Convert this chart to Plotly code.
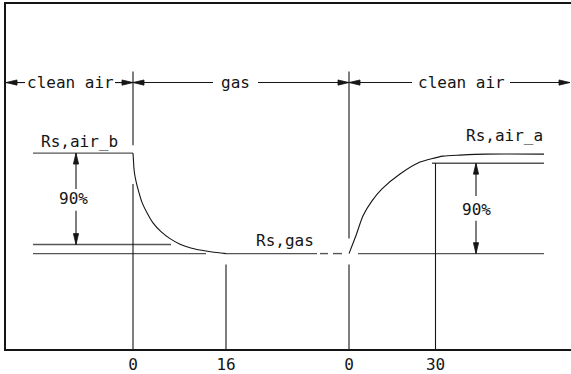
import plotly.graph_objects as go

# schematic units: x = position along the (not to scale) time axis,
# y = sensor resistance as % of the step between Rs,gas (0) and Rs,air (100)
T_GAS_ON = 127
T_GAS_90 = 220
T_GAS_OFF = 343
T_AIR_90 = 429.5
X_START, X_END = 27, 538
X_FRAME = 565
Y_MIN, Y_MAX = -95, 248.5

RS_AIR_B = 100
RS_AIR_A = 99
RS_GAS = 0
LEVEL_RESP = 9      # 90 % of the drop reached
LEVEL_REC = 90      # 90 % of the recovery reached

TICK_POS = [T_GAS_ON, T_GAS_90, T_GAS_OFF, T_AIR_90]
TICK_TEXT = ['0', '16', '0', '30']

DECAY_X = [127, 127.5, 128, 129, 130.5, 132.5, 136, 141, 147, 155, 164, 174, 184, 194, 206, 220]
DECAY_Y = [100, 92, 84.2, 77, 70, 62.4, 51, 40.6, 30.5, 21.8, 14.9, 9.4, 5.8, 3.5, 1.5, 0]

RISE_X = [343, 350, 357, 366, 376, 394, 414, 437, 454, 479, 538]
RISE_Y = [0, 18, 37.6, 52.5, 64.4, 79.2, 91.1, 97, 98, 99, 99]

PHASES = ['clean air', 'gas', 'clean air']
PHASE_EDGES = [0, 127, 343, 564]
PHASE_TEXT_GAP = [(19, 109), (207, 252), (406, 504)]
DIM_Y = 170.3
EXT_TOP = 181.2

FONT = 'DejaVu Sans Mono'
INK = '#151515'
GREY = '#555555'

PLOT_W, PLOT_H = 565, 347
PX_X = PLOT_W / X_FRAME
PX_Y = PLOT_H / (Y_MAX - Y_MIN)


def segs(pairs):
    xs, ys = [], []
    for (x0, y0), (x1, y1) in pairs:
        xs += [x0, x1, None]
        ys += [y0, y1, None]
    return xs, ys


def heads(tips, length=11, half=2.6):
    # tips: (x, y, direction) -> filled narrow triangles
    xs, ys = [], []
    for x, y, d in tips:
        dx, dy = {'l': (1, 0), 'r': (-1, 0), 'u': (0, -1), 'd': (0, 1)}[d]
        bx, by = x + dx * length / PX_X, y + dy * length / PX_Y
        px, py = dy * half / PX_X, dx * half / PX_Y
        xs += [x, bx + px, bx - px, x, None]
        ys += [y, by + py, by - py, y, None]
    return xs, ys


fig = go.Figure()

# level lines
level_x, level_y = segs([
    ((X_START, RS_AIR_B), (T_GAS_ON, RS_AIR_B)),
    ((X_START, LEVEL_RESP), (165, LEVEL_RESP)),
    ((X_START, RS_GAS), (200, RS_GAS)),
    ((T_GAS_90, RS_GAS), (311, RS_GAS)),
    ((314, RS_GAS), (322, RS_GAS)),
    ((327, RS_GAS), (336, RS_GAS)),
    ((352, RS_GAS), (X_END, RS_GAS)),
    ((426, LEVEL_REC), (X_END, LEVEL_REC)),
])
fig.add_scatter(x=level_x, y=level_y, mode='lines', line=dict(color=GREY, width=1.4), hoverinfo='skip')

# time markers
vert_x, vert_y = segs([
    ((T_GAS_ON, EXT_TOP), (T_GAS_ON, 107.9)),
    ((T_GAS_ON, 69.3), (T_GAS_ON, Y_MIN)),
    ((T_GAS_90, -10.9), (T_GAS_90, Y_MIN)),
    ((T_GAS_OFF, EXT_TOP), (T_GAS_OFF, 14.9)),
    ((T_GAS_OFF, -10.9), (T_GAS_OFF, Y_MIN)),
    ((T_AIR_90, LEVEL_REC), (T_AIR_90, Y_MIN)),
])
fig.add_scatter(x=vert_x, y=vert_y, mode='lines', line=dict(color=INK, width=1.1), hoverinfo='skip')

# sensor response
fig.add_scatter(x=DECAY_X, y=DECAY_Y, mode='lines', line=dict(color=INK, width=1.1, shape='spline', smoothing=0.6),
                hoverinfo='skip')
fig.add_scatter(x=RISE_X, y=RISE_Y, mode='lines', line=dict(color=INK, width=1.1, shape='spline', smoothing=0.6),
                hoverinfo='skip')

# phase dimension line
dim_pairs, tips = [], []
for i, name in enumerate(PHASES):
    x0, x1 = PHASE_EDGES[i], PHASE_EDGES[i + 1]
    g0, g1 = PHASE_TEXT_GAP[i]
    dim_pairs += [((x0, DIM_Y), (g0, DIM_Y)), ((g1, DIM_Y), (x1, DIM_Y))]
    tips += [(x0, DIM_Y, 'l'), (x1, DIM_Y, 'r')]
    fig.add_annotation(x=(g0 + g1) / 2, y=DIM_Y, text=name, showarrow=False,
                       font=dict(family=FONT, size=16, color=INK))

# 90 % arrows
arrow_pairs = [
    ((70, RS_AIR_B), (70, 64.4)), ((70, 42.6), (70, LEVEL_RESP)),
    ((470, LEVEL_REC), (470, 57.4)), ((470, 32.7), (470, RS_GAS)),
]
tips += [(70, RS_AIR_B, 'u'), (70, LEVEL_RESP, 'd'), (470, LEVEL_REC, 'u'), (470, RS_GAS, 'd')]

dx, dy = segs(dim_pairs + arrow_pairs)
fig.add_scatter(x=dx, y=dy, mode='lines', line=dict(color=INK, width=1.1), hoverinfo='skip')
hx, hy = heads(tips)
fig.add_scatter(x=hx, y=hy, mode='lines', fill='toself', fillcolor=INK, line=dict(color=INK, width=0.8),
                hoverinfo='skip')

labels = [
    ('Rs,air_b', 73, 111.9),
    ('Rs,air_a', 498, 117.8),
    ('Rs,gas', 279, 12.9),
    ('90%', 67.5, 54.5),
    ('90%', 470, 43.6),
]
for text, x, y in labels:
    fig.add_annotation(x=x, y=y, text=text, showarrow=False, font=dict(family=FONT, size=16, color=INK))

fig.update_layout(
    width=571, height=374, showlegend=False,
    margin=dict(l=6, r=0, t=4, b=23),
    paper_bgcolor='white', plot_bgcolor='white',
    xaxis=dict(range=[0, X_FRAME], showgrid=False, zeroline=False, showline=True, mirror='allticks',
               linecolor=INK, linewidth=1.6, tickvals=TICK_POS, ticktext=TICK_TEXT, ticks='',
               tickfont=dict(family=FONT, size=16, color=INK)),
    yaxis=dict(range=[Y_MIN, Y_MAX], showgrid=False, zeroline=False, showline=True,
               linecolor=INK, linewidth=1.6, showticklabels=False, ticks=''),
)

fig.write_html('out.html', config={'displayModeBar': False},
               post_script="document.body.style.margin='0px';")
